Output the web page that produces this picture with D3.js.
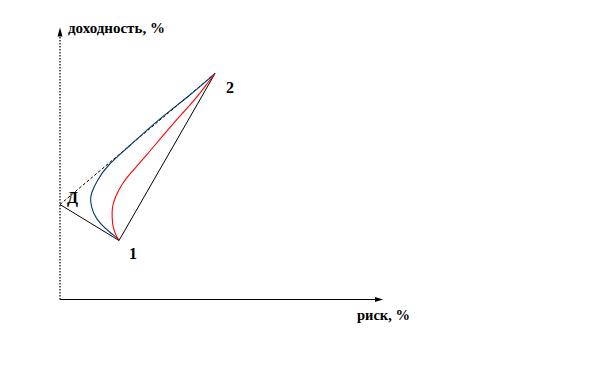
<!DOCTYPE html>
<html><head><meta charset="utf-8">
<script src="https://cdn.jsdelivr.net/npm/d3@7"></script>
<style>html,body{margin:0;padding:0;background:#fff;}svg{display:block;}</style>
</head><body>
<svg id="c" width="612" height="372"></svg>
<script>
// risk (%) and return (%) values, arbitrary units
const asset1 = {risk: 11.8, ret: 11.8, label: "1"};
const asset2 = {risk: 31.0, ret: 45.2, label: "2"};
const pointD = {risk: 0, ret: 19.0, label: "Д"};
const blueRisk = [11.8, 11.6, 10.0, 8.0, 6.6, 6.0, 6.2, 7.4, 9.4, 13.6, 19.4, 26.0, 31.0];
const blueRet  = [11.8, 12.2, 13.4, 15.2, 17.2, 19.8, 21.2, 23.8, 26.8, 30.4, 35.8, 40.8, 45.2];
const redRisk  = [11.8, 11.4, 10.6, 10.4, 10.4, 11.0, 12.4, 14.2, 16.6, 22.6, 27.4, 29.6, 31.0];
const redRet   = [11.8, 12.4, 14.2, 16.4, 18.4, 20.4, 23.2, 25.4, 28.0, 35.2, 40.4, 43.4, 45.2];
const xTitle = "риск, %";
const yTitle = "доходность, %";

const svg = d3.select("#c");
const x = d3.scaleLinear().domain([0, 64.6]).range([60, 383]);
const y = d3.scaleLinear().domain([0, 54.4]).range([299.5, 27.5]);
const font = "'Liberation Serif','Times New Roman',serif";

// axes
svg.append("line").attr("x1", x(0)).attr("y1", y(0)).attr("x2", x(0)).attr("y2", y(53))
  .attr("stroke", "#000").attr("stroke-width", 1.2).attr("stroke-dasharray", "1.5,1.5");
svg.append("path").attr("d", d3.line()([[x(0)-2.5, y(52.6)], [x(0), y(54.4)], [x(0)+2.5, y(52.6)]]) + "Z")
  .attr("fill", "#000");
svg.append("line").attr("x1", x(0)).attr("y1", y(0)).attr("x2", x(63)).attr("y2", y(0))
  .attr("stroke", "#000").attr("stroke-width", 1);
svg.append("path").attr("d", d3.line()([[x(63), y(0)-2.5], [x(64.6), y(0)], [x(63), y(0)+2.5]]) + "Z")
  .attr("fill", "#000");

// straight lines
const seg = (a, b, dash) => svg.append("line")
  .attr("x1", x(a.risk)).attr("y1", y(a.ret)).attr("x2", x(b.risk)).attr("y2", y(b.ret))
  .attr("stroke", "#000").attr("stroke-width", 1).attr("stroke-dasharray", dash || null);
seg(pointD, asset1);
seg(asset1, asset2);
seg(pointD, asset2, "3,2");

const line = d3.line().x(d => x(d[0])).y(d => y(d[1])).curve(d3.curveBasis);
svg.append("path").datum(blueRisk.map((r, i) => [r, blueRet[i]])).attr("d", line)
  .attr("fill", "none").attr("stroke", "#003a70").attr("stroke-width", 1.1);
svg.append("path").datum(redRisk.map((r, i) => [r, redRet[i]])).attr("d", line)
  .attr("fill", "none").attr("stroke", "#ff0000").attr("stroke-width", 1.1);

// labels
const txt = (s, px, py, size) => svg.append("text").attr("x", px).attr("y", py)
  .attr("font-family", font).attr("font-weight", "bold").attr("font-size", size).attr("fill", "#000").text(s);
txt(yTitle, 68, 33, 15);
txt(xTitle, 357, 320, 14.5);
txt(asset1.label, x(asset1.risk) + 10, y(asset1.ret) + 18, 16);
txt(asset2.label, x(asset2.risk) + 11, y(asset2.ret) + 19, 16);
txt(pointD.label, x(pointD.risk) + 7, y(pointD.ret) - 2, 16);
</script>
</body></html>
